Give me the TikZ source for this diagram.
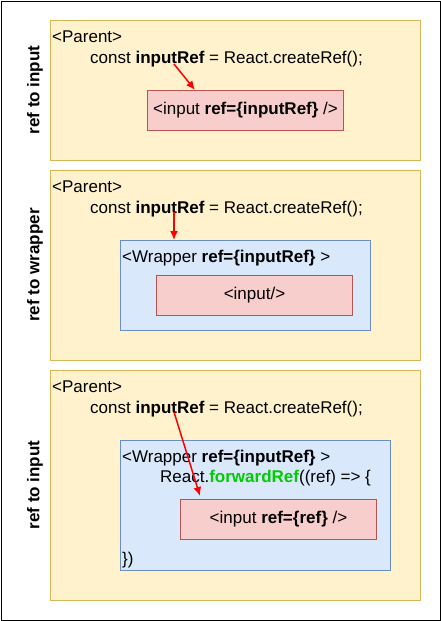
\documentclass[tikz,border=0pt]{standalone}
\usepackage{fontspec}
\setmainfont{Liberation Sans}
\usetikzlibrary{arrows.meta}
\definecolor{panelfill}{HTML}{FFF2CC}
\definecolor{panelline}{HTML}{D6B656}
\definecolor{wrapfill}{HTML}{DAE8FC}
\definecolor{wrapline}{HTML}{6C8EBF}
\definecolor{inputfill}{HTML}{F8CECC}
\definecolor{inputline}{HTML}{B85450}
\definecolor{fwdgreen}{HTML}{00CC00}

\begin{document}
\begin{tikzpicture}[x=1pt,y=-1pt,font=\fontsize{17}{20}\selectfont,
 panel/.style={draw=panelline,fill=panelfill,line width=1pt,anchor=north west,inner sep=0pt,minimum width=370pt},
 wrapbox/.style={draw=wrapline,fill=wrapfill,line width=1pt,anchor=north west,inner sep=0pt},
 inputbox/.style={draw=inputline,fill=inputfill,line width=1pt,anchor=north west,inner sep=0pt,minimum width=196pt,minimum height=40pt},
 code/.style={anchor=base west,inner sep=0pt},
 sidelabel/.style={rotate=90,font=\fontsize{17}{20}\selectfont\bfseries},
 refarrow/.style={red,-{Latex[length=9pt,width=8pt]},line width=1.5pt}]
 \useasboundingbox (0,0) rectangle (441,621);
 \draw[line width=1pt] (1,1) rectangle (440,620);
 % panel 1
 \node[panel,minimum height=140pt] (panel1) at (50,20) {};
 \node[sidelabel] (side1) at (35,90) {ref to input};
 \node[code] (parent1) at (52,42) {<Parent>};
 \node[code] (const1) at (90,63) {const \textbf{inputRef} = React.createRef();};
 \node[inputbox] (input1) at (147,90) {};
 \node (input1text) at (input1.center) {<input \textbf{ref=\{inputRef\}} />};
 \coordinate (src1) at (174,64);
 \draw[refarrow] (src1)--([xshift=48pt]input1.north west);
 % panel 2
 \node[panel,minimum height=190pt] (panel2) at (50,170) {};
 \node[sidelabel] (side2) at (35,265) {ref to wrapper};
 \node[code] (parent2) at (52,192) {<Parent>};
 \node[code] (const2) at (90,213) {const \textbf{inputRef} = React.createRef();};
 \node[wrapbox,minimum width=250pt,minimum height=90pt] (wrap2) at (120,240) {};
 \node[code] (wrap2text) at (122,262) {<Wrapper \textbf{ref=\{inputRef\}} >};
 \node[inputbox] (input2) at (156,275) {};
 \node (input2text) at (input2.center) {<input/>};
 \coordinate (src2) at (174,212);
 \draw[refarrow] (src2)--([xshift=54pt]wrap2.north west);
 % panel 3
 \node[panel,minimum height=230pt] (panel3) at (50,370) {};
 \node[sidelabel] (side3) at (35,485) {ref to input};
 \node[code] (parent3) at (52,392) {<Parent>};
 \node[code] (const3) at (90,413) {const \textbf{inputRef} = React.createRef();};
 \node[wrapbox,minimum width=270pt,minimum height=130pt] (wrap3) at (120,440) {};
 \node[code] (wrap3text) at (122,462) {<Wrapper \textbf{ref=\{inputRef\}} >};
 \node[code] (fwd3) at (160,482) {React.\textcolor{fwdgreen}{\textbf{forwardRef}}((ref) => \{};
 \node[inputbox] (input3) at (180,499) {};
 \node (input3text) at (input3.center) {<input \textbf{ref=\{ref\}} />};
 \node[code] (close3) at (122,564) {\})};
 \coordinate (src3) at (174,412);
 \draw[refarrow] (src3)--([xshift=20pt,yshift=3pt]input3.north west);
\end{tikzpicture}
\end{document}
